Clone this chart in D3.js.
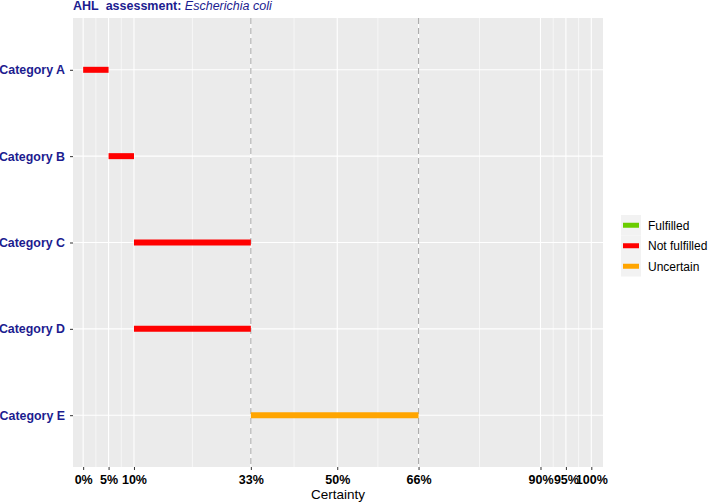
<!DOCTYPE html>
<html>
<head>
<meta charset="utf-8">
<script src="https://cdn.jsdelivr.net/npm/d3@7"></script>
<style>
  body { margin: 0; background: #fff; }
  text { font-family: "Liberation Sans", Arial, sans-serif; }
</style>
</head>
<body>
<div id="chart"></div>
<script>
var categories = ["Category A", "Category B", "Category C", "Category D", "Category E"];
var starts = [0, 5, 10, 10, 33];
var ends = [5, 10, 33, 33, 66];
var statuses = ["Not fulfilled", "Not fulfilled", "Not fulfilled", "Not fulfilled", "Uncertain"];
var tickValues = [0, 5, 10, 33, 50, 66, 90, 95, 100];
var minorValues = [2.5, 7.5, 21.5, 41.5, 58, 78, 92.5, 97.5];
var refLines = [33, 66];
var legendLabels = ["Fulfilled", "Not fulfilled", "Uncertain"];
var legendColors = ["#6ACD00", "#FF0000", "#FFA500"];

var width = 709,
	height = 503,
	panel = { left: 73, top: 18, right: 603, bottom: 467 },
	navy = "#1C1C8F";

var svg = d3.select("#chart").append("svg")
	.attr("width", width)
	.attr("height", height);

var x = d3.scaleLinear()
	.domain([-2, 102.3])
	.range([panel.left, panel.right]);

var y = d3.scalePoint()
	.domain(categories)
	.range([panel.top, panel.bottom])
	.padding(0.6);

var color = d3.scaleOrdinal().domain(legendLabels).range(legendColors);

// panel background
svg.append("rect")
	.attr("x", panel.left)
	.attr("y", panel.top)
	.attr("width", panel.right - panel.left)
	.attr("height", panel.bottom - panel.top)
	.attr("fill", "#EBEBEB");

// grid
svg.selectAll(".minor").data(minorValues).enter().append("line")
	.attr("x1", function(d) { return x(d); })
	.attr("x2", function(d) { return x(d); })
	.attr("y1", panel.top).attr("y2", panel.bottom)
	.attr("stroke", "#fff").attr("stroke-width", 0.6);

svg.selectAll(".majorx").data(tickValues).enter().append("line")
	.attr("x1", function(d) { return x(d); })
	.attr("x2", function(d) { return x(d); })
	.attr("y1", panel.top).attr("y2", panel.bottom)
	.attr("stroke", "#fff").attr("stroke-width", 1.1);

svg.selectAll(".majory").data(categories).enter().append("line")
	.attr("x1", panel.left).attr("x2", panel.right)
	.attr("y1", function(d) { return y(d); })
	.attr("y2", function(d) { return y(d); })
	.attr("stroke", "#fff").attr("stroke-width", 1.1);

// dashed reference lines
svg.selectAll(".ref").data(refLines).enter().append("line")
	.attr("x1", function(d) { return x(d); })
	.attr("x2", function(d) { return x(d); })
	.attr("y1", panel.top).attr("y2", panel.bottom)
	.attr("stroke", "#ADADAD").attr("stroke-width", 1.1)
	.attr("stroke-dasharray", "6,4");

// segments
svg.selectAll(".seg").data(categories).enter().append("line")
	.attr("x1", function(d, i) { return x(starts[i]); })
	.attr("x2", function(d, i) { return x(ends[i]); })
	.attr("y1", function(d) { return y(d); })
	.attr("y2", function(d) { return y(d); })
	.attr("stroke", function(d, i) { return color(statuses[i]); })
	.attr("stroke-width", 6);

// axes
var xAxis = svg.append("g")
	.attr("transform", "translate(0," + panel.bottom + ")")
	.call(d3.axisBottom(x).tickValues(tickValues).tickSize(3).tickPadding(5)
		.tickFormat(function(d) { return d + "%"; }));
xAxis.select(".domain").remove();
xAxis.selectAll("line").attr("stroke", "#333");
xAxis.selectAll("text")
	.attr("fill", "#000")
	.style("font-size", "12.5px")
	.style("font-weight", "bold")
	.style("font-family", "Liberation Sans, Arial, sans-serif");

var yAxis = svg.append("g")
	.attr("transform", "translate(" + panel.left + ",0)")
	.call(d3.axisLeft(y).tickSize(3).tickPadding(5));
yAxis.select(".domain").remove();
yAxis.selectAll("line").attr("stroke", "#333");
yAxis.selectAll("text")
	.attr("fill", navy)
	.style("font-size", "12.4px")
	.style("font-weight", "bold")
	.style("font-family", "Liberation Sans, Arial, sans-serif");

// axis title
svg.append("text")
	.attr("x", (panel.left + panel.right) / 2)
	.attr("y", 499)
	.attr("text-anchor", "middle")
	.attr("fill", "#000")
	.style("font-size", "13.5px")
	.text("Certainty");

// title
var title = svg.append("text")
	.attr("x", panel.left)
	.attr("y", 10)
	.attr("fill", navy)
	.style("font-size", "12.5px");
title.append("tspan").attr("font-weight", "bold").text("AHL\u00A0 assessment: ");
title.append("tspan").attr("font-style", "italic").text("Escherichia coli");

// legend
var legend = svg.append("g").attr("transform", "translate(621,215)");
var keyH = 20.5;
legend.selectAll(".key").data(legendLabels).enter().append("rect")
	.attr("x", 0)
	.attr("y", function(d, i) { return i * keyH; })
	.attr("width", 20)
	.attr("height", keyH)
	.attr("fill", "#F2F2F2");
legend.selectAll(".keyline").data(legendLabels).enter().append("line")
	.attr("x1", 2).attr("x2", 18)
	.attr("y1", function(d, i) { return i * keyH + keyH / 2; })
	.attr("y2", function(d, i) { return i * keyH + keyH / 2; })
	.attr("stroke", function(d) { return color(d); })
	.attr("stroke-width", 5);
legend.selectAll(".lab").data(legendLabels).enter().append("text")
	.attr("x", 27)
	.attr("y", function(d, i) { return i * keyH + keyH / 2 + 4.5; })
	.attr("fill", "#000")
	.style("font-size", "12px")
	.text(function(d) { return d; });
</script>
</body>
</html>
